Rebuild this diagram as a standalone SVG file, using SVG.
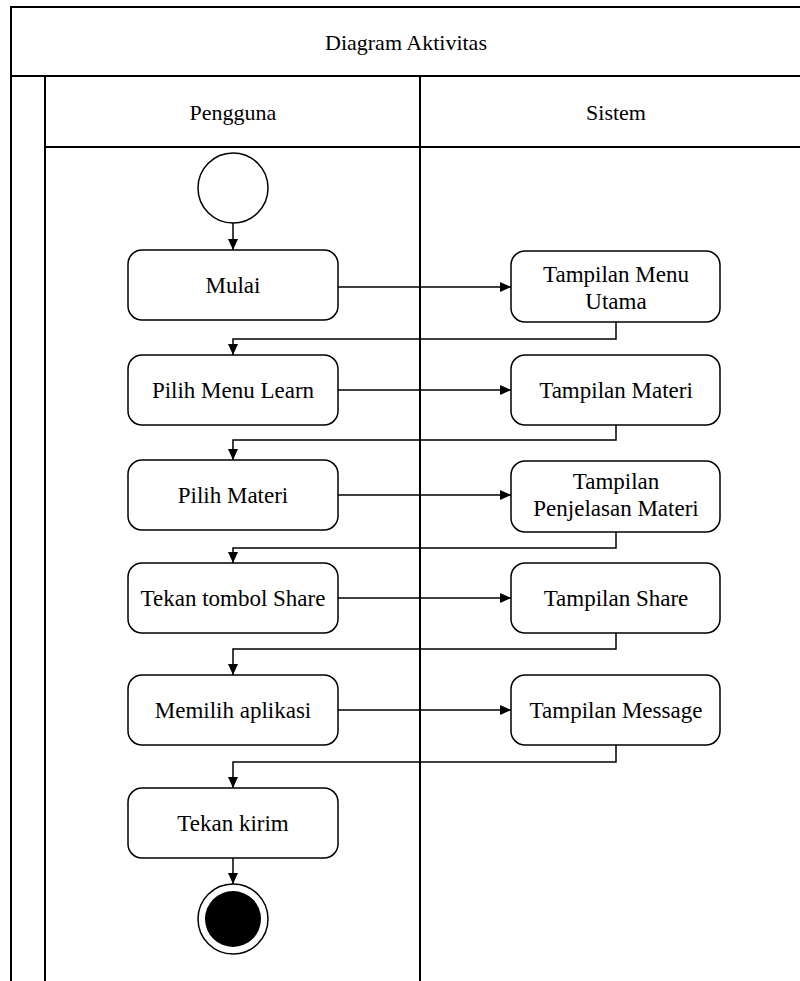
<svg xmlns="http://www.w3.org/2000/svg" width="800" height="981" viewBox="0 0 800 981">
<style>
.frame{fill:none;stroke:#000;stroke-width:2}
.node{fill:#fff;stroke:#000;stroke-width:1.5}
.t{font-family:"Liberation Serif","Times New Roman",serif;font-size:23px;fill:#000;text-anchor:middle}
.h{font-family:"Liberation Serif","Times New Roman",serif;font-size:22px;fill:#000;text-anchor:middle}
.c{fill:none;stroke:#000;stroke-width:1.5;marker-end:url(#arr)}
</style>
<defs>
<marker id="arr" markerUnits="userSpaceOnUse" markerWidth="12" markerHeight="12" refX="11" refY="5" orient="auto">
<path d="M0,0 L11,5 L0,10 Z" fill="#000"/>
</marker>
</defs>
<rect width="800" height="981" fill="#fff"/>
<g id="frame">
<path class="frame" d="M11,981 V7 H800 M11,76 H800 M45,76 V981 M45,147 H800 M420,76 V981"/>
<text class="h" x="406" y="50">Diagram Aktivitas</text>
<text class="h" x="233" y="120">Pengguna</text>
<text class="h" x="616" y="120">Sistem</text>
</g>
<g id="connectors">
<path class="c" d="M233,223 V250"/>
<path class="c" d="M338,287 H511"/>
<path class="c" d="M616,322 V339 H233 V355"/>
<path class="c" d="M338,390 H511"/>
<path class="c" d="M616,425 V440 H233 V460"/>
<path class="c" d="M338,495 H511"/>
<path class="c" d="M616,532 V548 H233 V563"/>
<path class="c" d="M338,598 H511"/>
<path class="c" d="M616,633 V649 H233 V675"/>
<path class="c" d="M338,710 H511"/>
<path class="c" d="M616,745 V762 H233 V788"/>
<path class="c" d="M233,858 V884"/>
</g>
<g id="start"><circle class="node" cx="233" cy="188" r="35"/></g>
<g id="mulai"><rect class="node" x="128" y="250" width="210" height="70" rx="14"/><text class="t" x="233" y="293">Mulai</text></g>
<g id="tampilan-menu-utama"><rect class="node" x="511" y="251" width="209" height="71" rx="14"/><text class="t" x="616" y="282">Tampilan Menu</text><text class="t" x="616" y="309">Utama</text></g>
<g id="pilih-menu-learn"><rect class="node" x="128" y="355" width="210" height="70" rx="14"/><text class="t" x="233" y="398">Pilih Menu Learn</text></g>
<g id="tampilan-materi"><rect class="node" x="511" y="355" width="209" height="70" rx="14"/><text class="t" x="616" y="398">Tampilan Materi</text></g>
<g id="pilih-materi"><rect class="node" x="128" y="460" width="210" height="70" rx="14"/><text class="t" x="233" y="503">Pilih Materi</text></g>
<g id="tampilan-penjelasan-materi"><rect class="node" x="511" y="461" width="209" height="71" rx="14"/><text class="t" x="616" y="489">Tampilan</text><text class="t" x="616" y="516">Penjelasan Materi</text></g>
<g id="tekan-tombol-share"><rect class="node" x="128" y="563" width="210" height="70" rx="14"/><text class="t" x="233" y="606">Tekan tombol Share</text></g>
<g id="tampilan-share"><rect class="node" x="511" y="563" width="209" height="70" rx="14"/><text class="t" x="616" y="606">Tampilan Share</text></g>
<g id="memilih-aplikasi"><rect class="node" x="128" y="675" width="210" height="70" rx="14"/><text class="t" x="233" y="718">Memilih aplikasi</text></g>
<g id="tampilan-message"><rect class="node" x="511" y="675" width="209" height="70" rx="14"/><text class="t" x="616" y="718">Tampilan Message</text></g>
<g id="tekan-kirim"><rect class="node" x="128" y="788" width="210" height="70" rx="14"/><text class="t" x="233" y="831">Tekan kirim</text></g>
<g id="end"><circle class="node" cx="233" cy="919" r="35"/><circle cx="233" cy="919" r="28" fill="#000"/></g>
</svg>
